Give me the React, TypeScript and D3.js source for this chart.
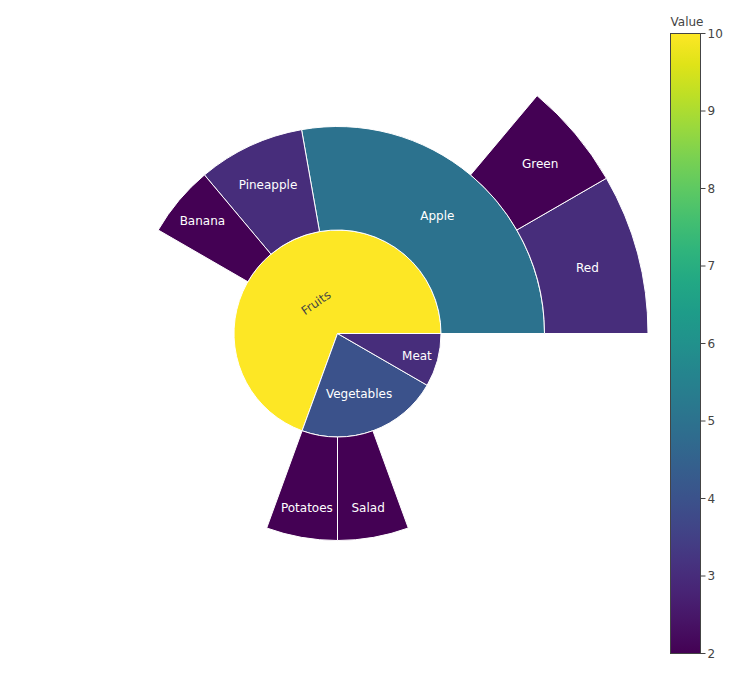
import React, { useMemo } from 'react';
import * as d3 from 'd3';

// ---- data ----
const ids = ['Fruits', 'Apple', 'Green', 'Red', 'Pineapple', 'Banana', 'Vegetables', 'Potatoes', 'Salad', 'Meat'];
const parents = ['', 'Fruits', 'Apple', 'Apple', 'Fruits', 'Fruits', '', 'Vegetables', 'Vegetables', ''];
const values = [10, 5, 2, 3, 3, 2, 4, 2, 2, 3];
const colorTicks = [2, 3, 4, 5, 6, 7, 8, 9, 10];
const colorTitle = 'Value';

const W = 734;
const H = 676;
const CX = 337.5;
const CY = 333.5;
const R = 310.5;
const FONT = "'DejaVu Sans', Verdana, sans-serif";
const TEXTPAD = 3;

function angleDelta(a: number, b: number) {
  const d = b - a;
  return Math.atan2(Math.sin(d), Math.cos(d));
}
function calcMaxHalfSize(a: number, halfAngle: number, r: number, ring: number) {
  const q = a + 1 / (2 * Math.tan(halfAngle));
  return r * Math.min(1 / (Math.sqrt(q * q + 0.5) + q), ring / (Math.sqrt(a * a + ring / 2) + a));
}
function calcRCenter(a: number, b: number) {
  return Math.cos(b) - a * b;
}

let ctx: CanvasRenderingContext2D | null = null;
function measure(text: string) {
  if (!ctx) {
    const c = document.createElement('canvas');
    ctx = c.getContext('2d');
  }
  if (!ctx) return text.length * 7;
  ctx.font = `12px ${FONT}`;
  return ctx.measureText(text).width;
}

export default function App() {
  const { nodes, ringW } = useMemo(() => {
    const rows = [{ id: '__root', parent: null as string | null, value: 0 }].concat(
      ids.map((id, i) => ({ id, parent: parents[i] === '' ? '__root' : parents[i], value: values[i] }))
    );
    const root = d3
      .stratify<any>()
      .id((d) => d.id)
      .parentId((d) => d.parent)(rows)
      .sum((d) => d.value)
      .sort((a, b) => (b.value || 0) - (a.value || 0));
    const depth = root.height;
    d3.partition<any>().size([2 * Math.PI, depth + 1])(root);
    return { nodes: root.descendants().filter((d) => d.depth > 0), ringW: R / depth };
  }, []);

  const color = d3.scaleSequential(d3.interpolateViridis).domain([2, 10]);
  const arc = d3.arc<any>();

  const items = nodes.map((n: any) => {
    const th0 = n.x0; // math angle, ccw from east
    const th1 = n.x1;
    const r0 = (n.y0 - 1) * ringW;
    const r1 = (n.y1 - 1) * ringW;
    const path = arc({
      innerRadius: r0,
      outerRadius: r1,
      startAngle: Math.PI / 2 - th1,
      endAngle: Math.PI / 2 - th0,
    }) as string;
    const own = n.data.value as number;
    const fill = color(own);
    const mid = (th0 + th1) / 2;
    // plotly-like inside text placement
    const ring = 1 - r0 / r1;
    const halfangle = 0.5 * Math.min(angleDelta(th0, th1) || Math.PI, Math.PI);
    const isFull = r0 === 0 && Math.abs(th1 - th0) >= 2 * Math.PI - 1e-9;
    const rInscribed = isFull ? 1 : Math.max(0, Math.min(1 / (1 + 1 / Math.sin(halfangle)), ring / 2));
    const tw = measure(n.data.id);
    const th = 15.6;
    const diam = Math.sqrt(tw * tw + th * th);
    const candidates: { scale: number; rCenter: number; rotate: number }[] = [];
    const hT = { scale: (rInscribed * r1 * 2) / diam, rCenter: 1 - rInscribed, rotate: 0 };
    let chosen = hT;
    if (hT.scale < 1) {
      candidates.push(hT);
      const rr = Math.max(0, r1 - 2 * TEXTPAD);
      const aR = tw / th;
      const sR = calcMaxHalfSize(aR, halfangle, rr, ring);
      const radDeg = -(mid * 180) / Math.PI;
      const norm = (deg: number) => {
        let d = ((deg % 180) + 180) % 180;
        if (d >= 90) d -= 180;
        return d;
      };
      candidates.push({ scale: (sR * 2) / th, rCenter: calcRCenter(aR, sR / rr), rotate: norm(radDeg) });
      const aT = th / tw;
      const sT = calcMaxHalfSize(aT, halfangle, rr, ring);
      candidates.push({ scale: (sT * 2) / tw, rCenter: calcRCenter(aT, sT / rr), rotate: norm(radDeg + 90) });
      let best = 0;
      let bi = 0;
      candidates.forEach((c, i) => {
        if (best < c.scale) {
          best = c.scale;
          bi = i;
        }
      });
      chosen = candidates[bi];
    }
    const rt = chosen.rCenter * r1;
    const tx = CX + rt * Math.cos(mid);
    const ty = CY - rt * Math.sin(mid);
    const light = d3.hsl(fill).l > 0.5;
    return { id: n.data.id, path, fill, tx, ty, rotate: chosen.rotate, textColor: light ? '#444' : '#fff' };
  });

  // colorbar
  const cbX = 670.5;
  const cbW = 30;
  const cbTop = 33.5;
  const cbBot = 653.5;
  const cbScale = d3.scaleLinear().domain([2, 10]).range([cbBot, cbTop]);
  const stops = d3.range(0, 1.0001, 0.05);

  return (
    <svg width={W} height={H} style={{ position: 'absolute', left: 0, top: 0, fontFamily: FONT }}>
      <defs>
        <linearGradient id="cbgrad" x1="0" y1="1" x2="0" y2="0">
          {stops.map((t) => (
            <stop key={t} offset={t} stopColor={d3.interpolateViridis(t)} />
          ))}
        </linearGradient>
      </defs>
      <rect width={W} height={H} fill="#fff" />
      <g transform={`translate(${CX},${CY})`}>
        {items.map((d) => (
          <path key={d.id} d={d.path} fill={d.fill} stroke="#fff" strokeWidth={1} />
        ))}
      </g>
      {items.map((d) => (
        <g key={d.id} transform={`translate(${d.tx},${d.ty})${d.rotate ? ` rotate(${d.rotate})` : ''}`}>
          <text x={0} y={1} textAnchor="middle" dominantBaseline="central" fontSize={12} fill={d.textColor}>
            {d.id}
          </text>
        </g>
      ))}
      <g>
        <rect x={cbX} y={cbTop} width={cbW} height={cbBot - cbTop} fill="url(#cbgrad)" stroke="#444" strokeWidth={1} />
        {colorTicks.map((t) => (
          <g key={t}>
            <line x1={cbX + cbW} x2={cbX + cbW + 5} y1={cbScale(t)} y2={cbScale(t)} stroke="#444" strokeWidth={1} />
            <text x={cbX + cbW + 7} y={cbScale(t)} dominantBaseline="central" fontSize={12} fill="#444">
              {t}
            </text>
          </g>
        ))}
        <text x={cbX} y={26} fontSize={12} fill="#444">
          {colorTitle}
        </text>
      </g>
    </svg>
  );
}
